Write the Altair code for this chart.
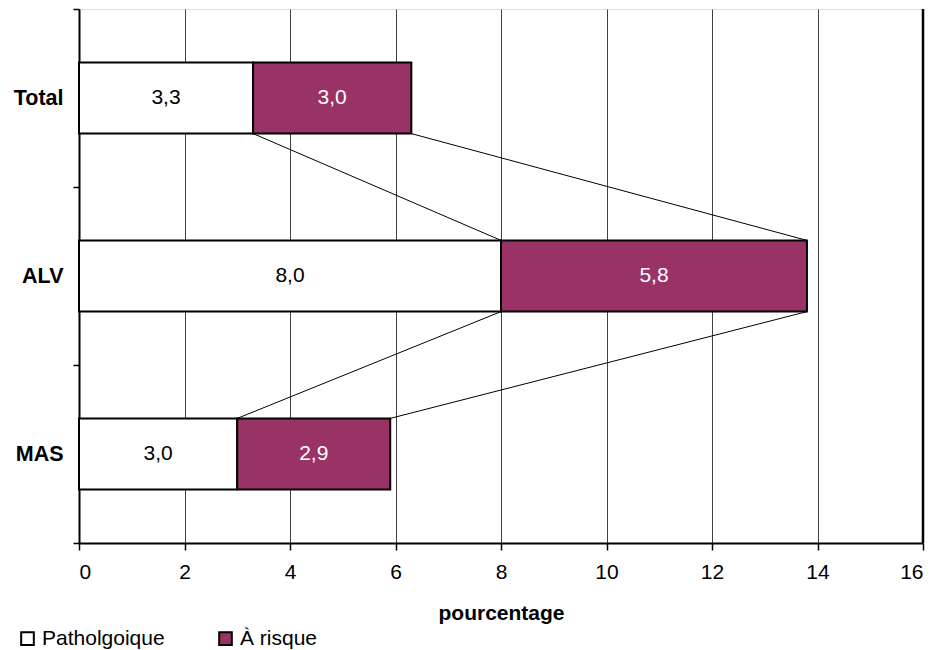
import altair as alt
import pandas as pd

categories = ["Total", "ALV", "MAS"]
series = ["Patholgoique", "À risque"]
patho = [3.3, 8.0, 3.0]
risque = [3.0, 5.8, 2.9]
x_ticks = [0, 2, 4, 6, 8, 10, 12, 14, 16]
colors = ["#ffffff", "#993366"]
label_colors = ["#000000", "#ffffff"]

rows = []
for c, p, r in zip(categories, patho, risque):
    rows.append({"cat": c, "series": series[0], "start": 0.0, "end": p, "value": p, "lc": label_colors[0]})
    rows.append({"cat": c, "series": series[1], "start": p, "end": p + r, "value": r, "lc": label_colors[1]})
bars_df = pd.DataFrame(rows)

totals = [p + r for p, r in zip(patho, risque)]
line_rows = []
for i in range(len(categories) - 1):
    for cum in (patho, totals):
        line_rows.append({"from": categories[i], "to": categories[i + 1], "x1": cum[i], "x2": cum[i + 1]})
lines_df = pd.DataFrame(line_rows)

FONT = "Liberation Sans"
FS = 21
BAR = 0.4

xscale = alt.Scale(domain=[0, 16], nice=False, zero=True)
yscale = alt.Scale(domain=categories, paddingInner=0, paddingOuter=0)

base = alt.Chart(bars_df)

bars = base.mark_bar(stroke="black", strokeWidth=2, height={"band": BAR}).encode(
    x=alt.X("start:Q", scale=xscale,
            axis=alt.Axis(values=x_ticks, grid=True, gridColor="#404040", gridWidth=1,
                          domainColor="black", domainWidth=2, tickColor="black", tickWidth=1.5,
                          tickSize=7, labelFontSize=FS, labelFont=FONT, labelPadding=11,
                          labelColor="black", title="pourcentage", titleFont=FONT,
                          titleFontSize=FS, titleFontWeight="bold", titlePadding=20,
                          titleColor="black")),
    x2="end:Q",
    y=alt.Y("cat:N", scale=yscale, sort=categories,
            axis=alt.Axis(title=None, tickBand="extent", grid=False, domainColor="black",
                          domainWidth=2, tickColor="black", tickWidth=1.5, tickSize=6,
                          labelFontSize=21.5, labelFont=FONT, labelFontWeight="bold",
                          labelPadding=10, labelColor="black")),
    color=alt.Color("series:N", scale=alt.Scale(domain=series, range=colors),
                    legend=alt.Legend(title=None, orient="none", legendX=-62, legendY=619,
                                      direction="horizontal", symbolType="square",
                                      symbolSize=160, symbolStrokeColor="black",
                                      symbolStrokeWidth=2, symbolOpacity=1,
                                      labelFontSize=FS, labelFont=FONT, labelColor="black",
                                      columnPadding=50, labelOffset=4)),
)

text = base.transform_calculate(
    mid="(datum.start + datum.end) / 2",
    lab="replace(format(datum.value, '.1f'), '.', ',')",
).mark_text(fontSize=FS, font=FONT, baseline="middle", align="center").encode(
    x=alt.X("mid:Q", scale=xscale),
    y=alt.Y("cat:N", scale=yscale, sort=categories),
    text="lab:N",
    color=alt.Color("lc:N", scale=None, legend=None),
)

rules = alt.Chart(lines_df).mark_rule(color="black", strokeWidth=1).encode(
    x=alt.X("x1:Q", scale=xscale),
    x2="x2:Q",
    y=alt.Y("from:N", scale=yscale, sort=categories, bandPosition=0.5 + BAR / 2),
    y2=alt.Y2("to:N", bandPosition=0.5 - BAR / 2),
)

right_edge = alt.Chart(pd.DataFrame({"x": [x_ticks[-1]]})).mark_rule(
    color="black", strokeWidth=2.5
).encode(x=alt.X("x:Q", scale=xscale))

chart = alt.layer(bars, rules, text, right_edge).properties(
    width=844, height=534,
    padding={"left": 71, "top": 1, "right": 8, "bottom": 107},
    autosize=alt.AutoSizeParams(type="none"),
).configure_view(stroke="#808080", strokeWidth=2).configure(font=FONT)

chart.save("out.html", embed_options={"renderer": "svg", "actions": False})
